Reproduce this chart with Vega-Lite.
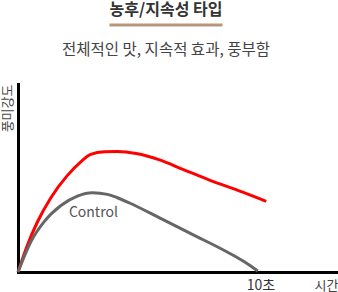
{
  "$schema": "https://vega.github.io/schema/vega-lite/v6.json",
  "width": 320,
  "height": 188,
  "autosize": {"type": "none"},
  "padding": {"left": 18, "top": 84, "right": 0, "bottom": 20},
  "background": "white",
  "config": {"font": "Noto Sans CJK KR", "view": {"stroke": null}},
  "title": {
    "text": "농후/지속성 타입",
    "subtitle": "전체적인 맛, 지속적 효과, 풍부함",
    "anchor": "middle",
    "frame": "group",
    "dx": -12,
    "dy": 63,
    "fontSize": 16,
    "fontWeight": "bold",
    "color": "#333333",
    "subtitleFontSize": 15.5,
    "subtitleColor": "#444444",
    "subtitlePadding": 24.5,
    "offset": 28
  },
  "layer": [
    {
      "data": {
        "values": [
          {"series": "풍미", "t": 0, "v": 0},
          {"series": "풍미", "t": 0.39, "v": 14.4},
          {"series": "풍미", "t": 0.8, "v": 26.6},
          {"series": "풍미", "t": 1.35, "v": 39.4},
          {"series": "풍미", "t": 2.04, "v": 51.4},
          {"series": "풍미", "t": 2.59, "v": 58.6},
          {"series": "풍미", "t": 3.0, "v": 62.6},
          {"series": "풍미", "t": 3.56, "v": 64.0},
          {"series": "풍미", "t": 4.1, "v": 64.1},
          {"series": "풍미", "t": 4.88, "v": 63.0},
          {"series": "풍미", "t": 5.84, "v": 59.6},
          {"series": "풍미", "t": 6.8, "v": 54.6},
          {"series": "풍미", "t": 7.9, "v": 48.9},
          {"series": "풍미", "t": 9.27, "v": 42.5},
          {"series": "풍미", "t": 10.24, "v": 37.6},
          {"series": "Control", "t": 0, "v": 0},
          {"series": "Control", "t": 0.53, "v": 16.1},
          {"series": "Control", "t": 1.08, "v": 26.8},
          {"series": "Control", "t": 1.77, "v": 35.4},
          {"series": "Control", "t": 2.45, "v": 40.4},
          {"series": "Control", "t": 3.07, "v": 42.2},
          {"series": "Control", "t": 3.69, "v": 41.3},
          {"series": "Control", "t": 4.1, "v": 39.5},
          {"series": "Control", "t": 4.6, "v": 36.7},
          {"series": "Control", "t": 5.84, "v": 28.8},
          {"series": "Control", "t": 7.21, "v": 19.9},
          {"series": "Control", "t": 8.59, "v": 10.9},
          {"series": "Control", "t": 9.4, "v": 4.9},
          {"series": "Control", "t": 9.89, "v": 0.5}
        ]
      },
      "mark": {"type": "line", "strokeWidth": 3, "interpolate": "monotone", "clip": false},
      "encoding": {
        "x": {
          "field": "t",
          "type": "quantitative",
          "scale": {"domain": [0, 13.2], "nice": false, "zero": false},
          "axis": {
            "values": [10],
            "labelExpr": "'10초'",
            "ticks": false,
            "tickSize": 0,
            "grid": false,
            "domainColor": "#000000",
            "domainWidth": 3,
            "domainCap": "square",
            "labelFontSize": 14,
            "labelColor": "#333333",
            "labelPadding": 6,
            "labelFlush": false,
            "title": "시간",
            "titleX": 320,
            "titleY": 13,
            "titleAlign": "right",
            "titleAnchor": "end",
            "titleBaseline": "middle",
            "titleFontSize": 13,
            "titleFontWeight": "normal",
            "titleColor": "#444444"
          }
        },
        "y": {
          "field": "v",
          "type": "quantitative",
          "scale": {"domain": [0, 100], "nice": false},
          "axis": {
            "labels": false,
            "ticks": false,
            "tickSize": 0,
            "grid": false,
            "domainColor": "#000000",
            "domainWidth": 3,
            "domainCap": "square",
            "title": "풍미강도",
            "titleAngle": -90,
            "titleX": -10.5,
            "titleY": 0,
            "titleAlign": "right",
            "titleBaseline": "middle",
            "titleFontSize": 13,
            "titleFontWeight": "normal",
            "titleColor": "#444444"
          }
        },
        "color": {
          "field": "series",
          "type": "nominal",
          "scale": {"domain": ["풍미", "Control"], "range": ["#ff0000", "#666666"]},
          "legend": null
        }
      }
    },
    {
      "data": {"values": [{"label": "Control"}]},
      "mark": {"type": "text", "fontSize": 14, "color": "#555555", "align": "center", "baseline": "middle"},
      "encoding": {
        "x": {"datum": 3.11, "type": "quantitative"},
        "y": {"datum": 31.2, "type": "quantitative"},
        "text": {"field": "label"}
      }
    },
    {
      "data": {"values": [{"part": "underline"}]},
      "mark": {"type": "rule", "color": "#b8967e", "strokeWidth": 3, "clip": false},
      "encoding": {
        "x": {"datum": 3.775, "type": "quantitative"},
        "x2": {"datum": 8.437},
        "y": {"datum": 131.4, "type": "quantitative"}
      }
    }
  ]
}
